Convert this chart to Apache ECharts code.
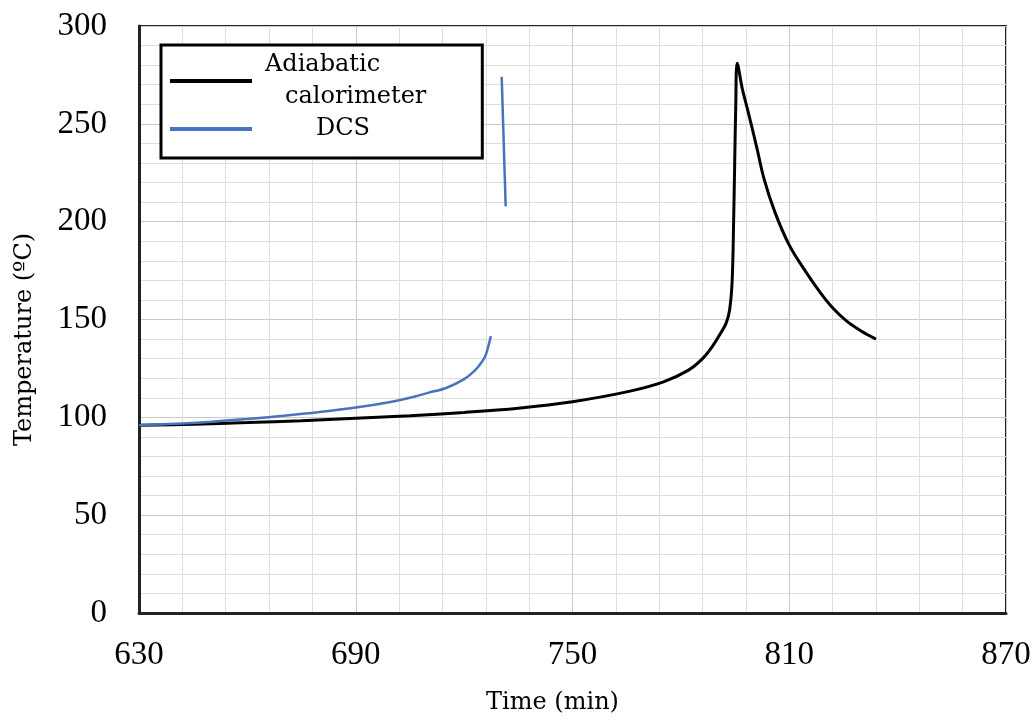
<!DOCTYPE html>
<html>
<head>
<meta charset="utf-8">
<script src="https://cdn.jsdelivr.net/npm/echarts@6/dist/echarts.min.js"></script>
<style>html,body{margin:0;padding:0;background:#fff;}#c{width:1035px;height:720px;}</style>
</head>
<body>
<div id="c"></div>
<script>
// Adiabatic calorimeter curve
const adiabaticTime = [630, 645, 660, 675, 690, 705, 720, 735, 750, 765, 775, 782, 786, 789, 791, 792.5, 793.5, 794.2, 794.6, 794.9, 795.2, 795.6, 797, 798.5, 801, 803, 806, 810, 814, 818.5, 822, 826, 830, 834];
const adiabaticTemp = [95.9, 96.5, 97.3, 98.3, 99.5, 100.8, 102.5, 104.7, 108, 113, 118, 124, 130, 137, 143, 148, 155, 170, 200, 230, 260, 281, 268, 257, 238, 222, 205, 188, 176, 164, 156, 149, 144, 140];
// DCS curve (lower part)
const dcsTime = [630, 640, 650, 660, 670, 680, 690, 700, 705, 710, 715, 720, 723, 725, 726, 726.8, 727.4];
const dcsTemp = [96, 96.7, 97.8, 99.2, 100.8, 102.7, 105, 108, 110, 112.5, 115, 119.5, 124, 128.5, 132, 137, 141.5];
// DCS curve (upper detached segment)
const dcsTopTime = [730.4, 731.5];
const dcsTopTemp = [274, 207.8];
// axis ticks
const xTicks = {min: 630, max: 870, step: 60};
const yTicks = {min: 0, max: 300, step: 50};
const seriesNames = ['Adiabatic calorimeter', 'DCS'];

const zip = (a, b) => a.map((v, i) => [v, b[i]]);
const chart = echarts.init(document.getElementById('c'));
const tickFont = {fontFamily: 'Liberation Serif', fontSize: 33, color: '#000'};
const nameFont = {fontFamily: 'DejaVu Serif', fontSize: 24, color: '#000'};
const blue = '#4a72bd';

chart.setOption({
  animation: false,
  backgroundColor: '#fff',
  grid: {left: 139, right: 29, top: 26, bottom: 106, show: true, borderColor: '#222', borderWidth: 2},
  legend: {
    orient: 'vertical',
    left: 161, top: 45,
    padding: [4, 56, 13, 9],
    itemGap: 0,
    itemWidth: 82, itemHeight: 4,
    icon: 'rect',
    borderColor: '#000', borderWidth: 3, backgroundColor: '#fff',
    data: seriesNames,
    formatter: function (n) {
      if (n === seriesNames[0]) return '{a|Adiabatic}\n{b|calorimeter}';
      return '{c|DCS}';
    },
    textStyle: {
      fontFamily: 'DejaVu Serif', fontSize: 24, color: '#000', lineHeight: 32,
      rich: {
        a: {fontFamily: 'DejaVu Serif', fontSize: 24, lineHeight: 32, padding: [0, 0, 0, 8]},
        b: {fontFamily: 'DejaVu Serif', fontSize: 24, lineHeight: 32, padding: [0, 0, 0, 28]},
        c: {fontFamily: 'DejaVu Serif', fontSize: 24, lineHeight: 32, padding: [0, 0, 0, 59]}
      }
    }
  },
  xAxis: {
    type: 'value', min: xTicks.min, max: xTicks.max, interval: xTicks.step,
    name: 'Time (min)', nameLocation: 'middle', nameGap: 78,
    nameTextStyle: Object.assign({padding: [0, 40, 0, 0]}, nameFont),
    axisLine: {show: true, onZero: false, lineStyle: {color: '#222', width: 3}},
    axisTick: {show: false},
    axisLabel: Object.assign({margin: 26}, tickFont),
    splitLine: {show: true, lineStyle: {color: '#c9c9c9', width: 1}},
    minorTick: {show: false, splitNumber: 5},
    minorSplitLine: {show: true, lineStyle: {color: '#dedede', width: 1}}
  },
  yAxis: {
    type: 'value', min: yTicks.min, max: yTicks.max, interval: yTicks.step,
    name: 'Temperature (ºC)', nameLocation: 'middle', nameGap: 102,
    nameTextStyle: Object.assign({padding: [0, 40, 0, 0]}, nameFont),
    axisLine: {show: true, lineStyle: {color: '#222', width: 3}},
    axisTick: {show: false},
    axisLabel: Object.assign({margin: 32}, tickFont),
    splitLine: {show: true, lineStyle: {color: '#c9c9c9', width: 1}},
    minorTick: {show: false, splitNumber: 5},
    minorSplitLine: {show: true, lineStyle: {color: '#dedede', width: 1}}
  },
  series: [
    {
      name: seriesNames[0], type: 'line', showSymbol: false, symbol: 'none',
      smooth: 0.35,
      data: zip(adiabaticTime, adiabaticTemp),
      itemStyle: {color: '#000'},
      lineStyle: {color: '#000', width: 3}
    },
    {
      name: seriesNames[1], type: 'line', showSymbol: false, symbol: 'none',
      smooth: 0.35,
      data: zip(dcsTime, dcsTemp),
      itemStyle: {color: blue},
      lineStyle: {color: blue, width: 2.5}
    },
    {
      name: seriesNames[1], type: 'line', showSymbol: false, symbol: 'none',
      data: zip(dcsTopTime, dcsTopTemp),
      itemStyle: {color: blue},
      lineStyle: {color: blue, width: 2.5}
    }
  ]
});
</script>
</body>
</html>
